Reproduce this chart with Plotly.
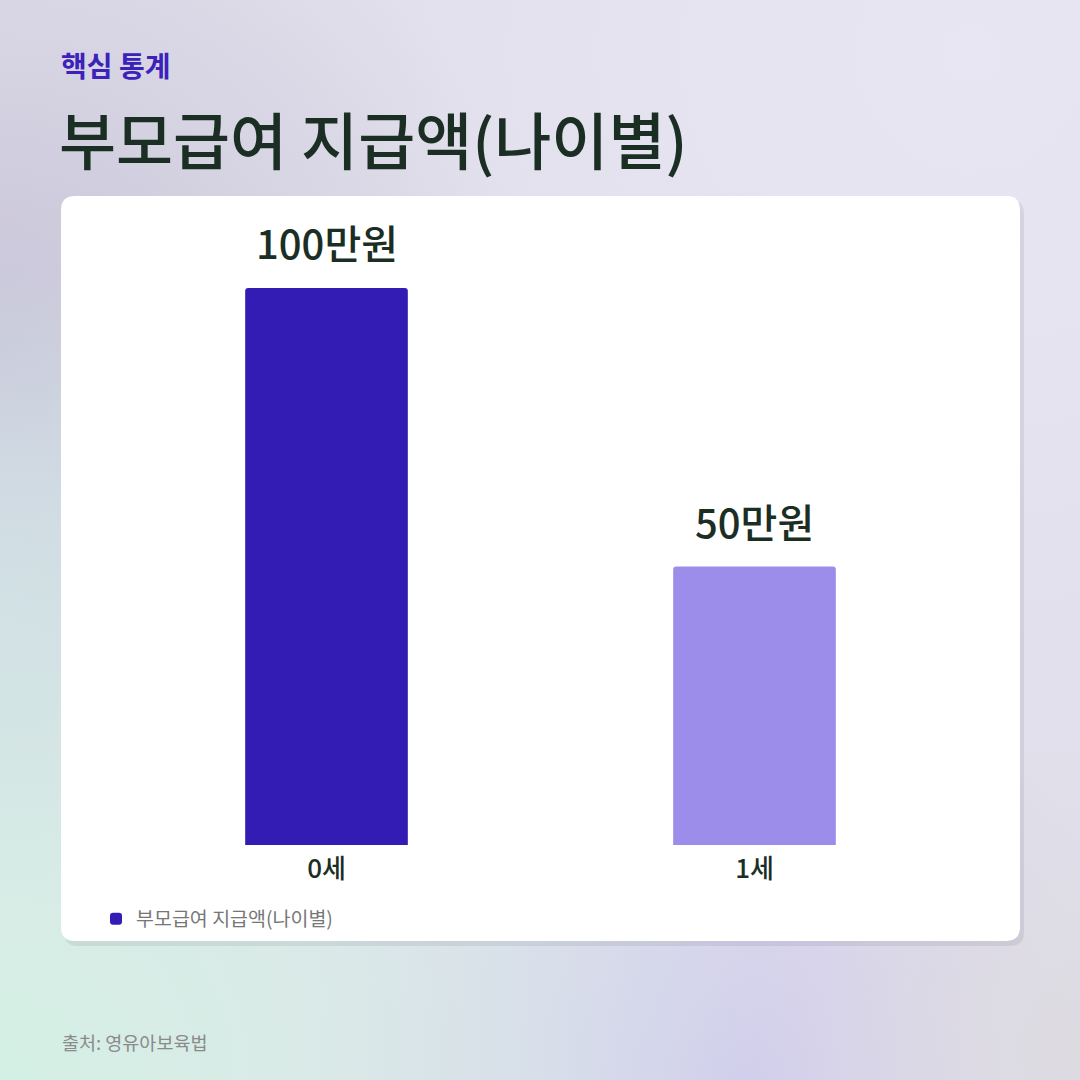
import base64
import plotly.graph_objects as go

# 데이터
ages = ["0세", "1세"]
amounts = [100, 50]
bar_colors = ["#321cb4", "#9c8deb"]
series_name = "부모급여 지급액(나이별)"
eyebrow = "핵심 통계"
title = "부모급여 지급액(나이별)"
source = "출처: 영유아보육법"

W = H = 1080
FONT = "Noto Sans CJK KR"


def px_x(v):
    return v / W


def px_y(v):
    return 1 - v / H


def round_rect(x0, y0, x1, y1, r):
    """픽셀 좌표 -> paper 좌표의 둥근 사각형 path"""
    pts = [
        f"M{px_x(x0 + r)},{px_y(y0)}",
        f"L{px_x(x1 - r)},{px_y(y0)}",
        f"Q{px_x(x1)},{px_y(y0)} {px_x(x1)},{px_y(y0 + r)}",
        f"L{px_x(x1)},{px_y(y1 - r)}",
        f"Q{px_x(x1)},{px_y(y1)} {px_x(x1 - r)},{px_y(y1)}",
        f"L{px_x(x0 + r)},{px_y(y1)}",
        f"Q{px_x(x0)},{px_y(y1)} {px_x(x0)},{px_y(y1 - r)}",
        f"L{px_x(x0)},{px_y(y0 + r)}",
        f"Q{px_x(x0)},{px_y(y0)} {px_x(x0 + r)},{px_y(y0)}",
        "Z",
    ]
    return " ".join(pts)


def blob(gid, cx, cy, r, color, op=1):
    return (f'<radialGradient id="{gid}" cx="{cx}" cy="{cy}" r="{r}">'
            f'<stop offset="0" stop-color="{color}" stop-opacity="{op}"/>'
            f'<stop offset="1" stop-color="{color}" stop-opacity="0"/></radialGradient>')


# 배경 그라디언트 (svg)
blobs = [
    blob("g2", 0, 0.33, 0.5, "#c7c3d7"),
    blob("g5", 0.9, 0.05, 0.55, "#e8e6f3"),
    blob("g6", 0, 0.55, 0.35, "#cfd7e5", 0.9),
    blob("g3", 0.68, 1, 0.4, "#d1ccec"),
    blob("g4", 1, 0.97, 0.3, "#dddbe0"),
    blob("g1", 0, 1, 0.75, "#d4f0e4"),
]
bg_svg = (f'<svg xmlns="http://www.w3.org/2000/svg" width="{W}" height="{H}"><defs>'
          + "".join(blobs) + '</defs><rect width="100%" height="100%" fill="#e2e0ec"/>'
          + "".join(f'<rect width="100%" height="100%" fill="url(#{g})"/>'
                    for g in ["g2", "g5", "g6", "g3", "g4", "g1"])
          + "</svg>")
bg_uri = "data:image/svg+xml;base64," + base64.b64encode(bg_svg.encode()).decode()

fig = go.Figure()
fig.add_trace(go.Bar(
    x=ages,
    y=amounts,
    name=series_name,
    marker=dict(color=bar_colors, cornerradius=3, line=dict(width=0)),
    showlegend=True,
    hoverinfo="skip",
))

# 값 라벨
for a, v in zip(ages, amounts):
    fig.add_annotation(
        x=a, y=v, xref="x", yref="y",
        text=f"{v}만원", showarrow=False,
        yanchor="bottom", yshift=15,
        font=dict(family=FONT, size=40, color="#1b2e24", weight=500),
    )

# 카드 그림자 + 카드
fig.add_shape(type="path", xref="paper", yref="paper", layer="below",
              path=round_rect(64, 200, 1024, 946, 14),
              fillcolor="rgba(70,70,100,0.10)", line=dict(width=0))
fig.add_shape(type="path", xref="paper", yref="paper", layer="below",
              path=round_rect(61, 196, 1020, 941, 14),
              fillcolor="#ffffff", line=dict(width=0))

# 상단 텍스트
fig.add_annotation(x=px_x(59), y=px_y(65), xref="paper", yref="paper",
                   xanchor="left", yanchor="middle", showarrow=False,
                   text=eyebrow,
                   font=dict(family=FONT, size=28, color="#3a22bb", weight=600))
fig.add_annotation(x=px_x(57), y=px_y(138), xref="paper", yref="paper",
                   xanchor="left", yanchor="middle", showarrow=False,
                   text=title,
                   font=dict(family=FONT, size=62, color="#1b2e24", weight=500))
fig.add_annotation(x=px_x(60), y=px_y(1042), xref="paper", yref="paper",
                   xanchor="left", yanchor="middle", showarrow=False,
                   text=source,
                   font=dict(family=FONT, size=18.5, color="#8a8a8a"))

ymax = max(amounts) * (845 - 230) / (845 - 288)

fig.update_layout(
    width=W, height=H,
    margin=dict(l=0, r=0, t=0, b=0),
    paper_bgcolor="#e4e2ee",
    plot_bgcolor="rgba(0,0,0,0)",
    font=dict(family=FONT),
    bargap=0.62,
    images=[dict(source=bg_uri, xref="paper", yref="paper", x=0, y=1,
                 sizex=1, sizey=1, sizing="stretch", layer="below")],
    xaxis=dict(domain=[px_x(112.5), px_x(968.5)], showgrid=False, zeroline=False,
               showline=False, ticks="", ticklabelstandoff=6,
               tickfont=dict(family=FONT, size=26, color="#1b2e24", weight=500),
               fixedrange=True),
    yaxis=dict(domain=[px_y(845), px_y(230)], range=[0, ymax], visible=False,
               fixedrange=True),
    legend=dict(x=px_x(96), y=px_y(919), xanchor="left", yanchor="middle",
                bgcolor="rgba(0,0,0,0)",
                font=dict(family=FONT, size=19.5, color="#777777")),
    hovermode=False,
)

fig.write_html("out.html", config={"displayModeBar": False},
               post_script="document.body.style.margin='0';")
